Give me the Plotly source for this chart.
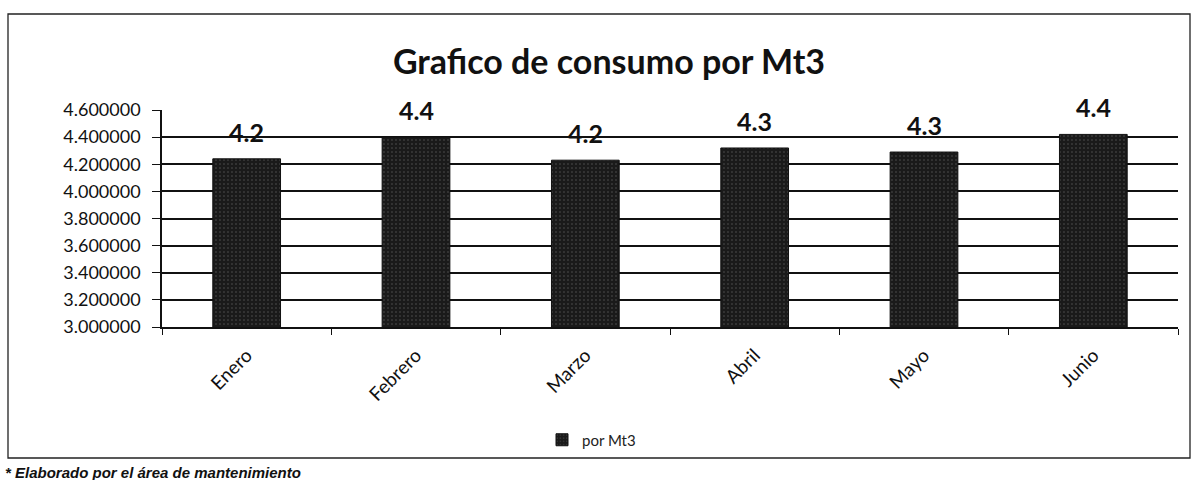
import plotly.graph_objects as go

months = ["Enero", "Febrero", "Marzo", "Abril", "Mayo", "Junio"]
consumo = [4.24, 4.40, 4.23, 4.32, 4.29, 4.42]
series_name = "por Mt3"
title_text = "Grafico de consumo por Mt3"
footer_text = "* Elaborado por el área de mantenimiento"

W, H = 1194, 480
L, R, T, B = 162, 16, 110, 153
ph = H - T - B
pw = W - L - R

def px_to_paper_x(px):
    return (px - L) / pw

def px_to_paper_y(py):
    return (H - B - py) / ph

fig = go.Figure()
fig.add_trace(go.Bar(
    x=months,
    y=consumo,
    name=series_name,
    marker=dict(
        color="#1a1a1a",
        line=dict(color="#111111", width=1),
        pattern=dict(shape=".", fgcolor="#8c8c8c", bgcolor="#1a1a1a", size=4, solidity=0.12),
    ),
    showlegend=True,
))

annotations = [
    dict(
        x=m, y=v, xref="x", yref="y",
        text=f"<b>{v:.1f}</b>",
        showarrow=False,
        yanchor="bottom", yshift=10,
        font=dict(family="Lato, Open Sans, sans-serif", size=25, color="#111111"),
    )
    for m, v in zip(months, consumo)
]
annotations.append(dict(
    text=f"<b><i>{footer_text}</i></b>",
    xref="paper", yref="paper",
    x=px_to_paper_x(3), xanchor="left",
    y=px_to_paper_y(472), yanchor="middle",
    showarrow=False,
    font=dict(family="Liberation Sans, Arial, sans-serif", size=15, color="#111111"),
))

fig.update_layout(
    width=W, height=H,
    margin=dict(l=L, r=R, t=T, b=B),
    paper_bgcolor="white",
    plot_bgcolor="white",
    bargap=0.6,
    font=dict(family="Lato, Open Sans, sans-serif", color="#111111"),
    title=dict(
        text=f"<b>{title_text}</b>",
        x=609 / W, xanchor="center",
        y=1 - 62 / H, yanchor="middle",
        font=dict(family="Lato, Open Sans, sans-serif", size=34, color="#111111"),
    ),
    legend=dict(
        orientation="h",
        x=px_to_paper_x(542), xanchor="left",
        y=px_to_paper_y(440), yanchor="middle",
        font=dict(size=15, color="#222222"),
        itemwidth=30,
    ),
    yaxis=dict(
        range=[3.0, 4.6],
        dtick=0.2,
        tick0=3.0,
        tickformat=".6f",
        showgrid=True,
        gridcolor="#111111",
        gridwidth=1.5,
        showline=True,
        linecolor="#111111",
        linewidth=1.5,
        ticks="outside",
        ticklen=8,
        tickcolor="#111111",
        tickfont=dict(size=18, color="#111111"),
        ticklabelstandoff=8,
        zeroline=False,
    ),
    xaxis=dict(
        tickangle=-45,
        tickfont=dict(size=19, color="#111111"),
        showline=True,
        linecolor="#111111",
        linewidth=1.5,
        ticks="outside",
        tickson="boundaries",
        ticklen=6,
        tickcolor="#111111",
        ticklabelstandoff=8,
    ),
    shapes=[
        dict(
            type="rect", xref="paper", yref="paper",
            x0=px_to_paper_x(8), x1=px_to_paper_x(1190),
            y0=px_to_paper_y(458), y1=px_to_paper_y(14),
            line=dict(color="#222222", width=1.3),
            fillcolor="rgba(0,0,0,0)",
            layer="below",
        )
    ],
    annotations=annotations,
)

fig.write_html(
    "out.html",
    config={"displayModeBar": False},
    post_script="document.body.style.margin='0';",
)
